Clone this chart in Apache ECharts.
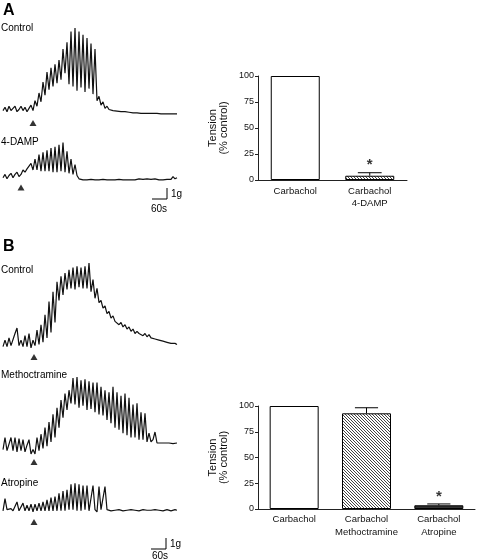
<!DOCTYPE html>
<html>
<head>
<meta charset="utf-8">
<script src="https://cdn.jsdelivr.net/npm/echarts@6/dist/echarts.min.js"></script>
<style>html,body{margin:0;padding:0;background:#fff}#c{width:477px;height:560px}</style>
</head>
<body>
<div id="c"></div>
<script>
// ---------- DATA ----------
// Tension traces (g), one sample every 8 s
const STEP_S = 8;
const controlA = [0.4,0.7,0.3,0.8,0.4,0.5,0.8,0.3,0.5,0.8,
 0.4,0.7,0.3,0.6,0.9,0.4,1.3,0.8,2.0,1.2,
 3.0,1.8,3.9,2.3,4.3,2.6,4.6,2.9,5.0,3.2,
 6.0,3.8,6.6,2.8,7.6,2.6,7.9,2.2,7.6,2.5,
 7.3,2.1,7.0,2.4,6.5,1.9,6.0,1.3,1.7,0.9,
 1.2,0.6,0.8,0.5,0.45,0.4,0.4,0.35,0.35,0.3,
 0.3,0.3,0.25,0.25,0.25,0.2,0.2,0.2,0.2,0.15,
 0.2,0.15,0.15,0.15,0.1,0.15,0.1,0.15,0.1,0.1,
 0.15,0.1,0.1,0.1,0.1,0.1,0.1,0.1];
const damp4 = [0.3,0.6,0.2,0.5,0.7,0.3,0.6,0.8,0.4,0.6,
 1.0,0.8,1.1,1.0,1.6,1.0,2.0,1.0,2.4,0.9,
 2.6,0.9,2.8,0.9,3.0,0.8,3.1,0.8,3.3,0.9,
 3.5,0.8,2.7,0.7,2.0,0.6,1.5,0.5,0.2,0.15,
 0.1,0.15,0.1,0.1,0.15,0.1,0.1,0.15,0.1,0.1,
 0.15,0.1,0.1,0.15,0.1,0.15,0.1,0.1,0.15,0.1,
 0.1,0.15,0.1,0.2,0.1,0.15,0.1,0.1,0.2,0.1,
 0.15,0.1,0.2,0.1,0.15,0.1,0.2,0.15,0.1,0.2,
 0.1,0.2,0.15,0.3,0.15,0.4,0.2,0.3];
const controlB = [0.3,0.9,0.3,1.1,0.4,0.5,1.5,2.0,0.4,0.9,
 0.3,1.3,0.3,1.5,0.2,0.9,0.4,1.8,0.5,2.3,
 0.7,3.2,1.1,4.4,1.6,5.3,2.5,6.2,4.5,6.7,
 5.0,7.0,5.5,7.3,5.6,7.5,5.5,7.6,5.7,7.5,
 5.6,7.6,5.6,7.9,5.3,6.4,4.7,5.6,4.3,4.5,
 3.8,4.0,3.3,3.5,2.9,3.1,2.6,2.7,2.3,2.5,
 2.1,2.3,1.9,2.1,1.7,1.9,1.5,1.7,1.5,1.5,
 1.3,1.5,1.2,1.4,1.1,1.2,1.0,1.1,0.9,1.0,
 0.8,0.9,0.7,0.8,0.6,0.7,0.6,0.5];
const methoctramine = [0.4,1.5,0.3,0.2,1.5,0.3,1.5,0.2,1.4,0.3,
 1.3,0.2,0.8,1.3,0.0,0.4,0.0,1.5,0.3,1.8,
 0.5,2.4,0.7,2.9,1.1,3.6,1.5,4.2,2.4,4.9,
 3.3,5.5,4.0,5.8,4.6,6.9,4.5,7.0,4.2,6.7,
 4.4,6.8,4.0,6.6,4.1,6.5,3.8,6.5,3.6,6.1,
 3.5,5.8,3.1,5.6,2.8,6.1,2.4,5.6,2.2,5.3,
 1.9,5.5,1.7,5.1,1.5,4.5,1.5,4.6,1.3,3.8,
 1.3,3.7,1.1,1.9,1.1,1.3,2.0,1.0,0.9,1.0,
 1.0,1.0,0.95,1.0,1.0,0.95,1.0,1.0];
const atropine = [0.2,1.3,0.3,0.2,0.4,0.2,0.3,1.0,0.2,0.3,
 0.9,0.2,0.7,0.2,0.8,0.1,0.8,0.2,0.9,0.2,
 1.0,0.2,1.2,0.2,1.4,0.2,1.5,0.2,1.8,0.2,
 2.0,0.2,2.1,0.3,2.6,0.3,2.7,0.2,2.6,0.2,
 2.5,0.3,2.5,0.2,0.2,2.5,0.3,0.1,2.4,0.3,
 0.2,2.4,0.3,0.25,0.2,0.3,0.25,0.2,0.3,0.25,
 0.2,0.3,0.25,0.25,0.3,0.2,0.25,0.3,0.2,0.25,
 0.3,0.2,0.25,0.3,0.25,0.2,0.3,0.25,0.25,0.3,
 0.2,0.25,0.3,0.25,0.2,0.25,0.3,0.25];
const traceLabels = ['Control','4-DAMP','Control','Methoctramine','Atropine'];
const stimTimes = [120, 72, 124, 124, 124];     // s, arrowheads
const arrowLevels = [-0.73, -0.6, -0.64, -0.73, -0.82]; // g
const scaleSeconds = 60, scaleGrams = 1;

// Bar charts (Tension, % control)
const catsA = ['Carbachol', 'Carbachol\n4-DAMP'];
const meanA = [100, 4.1];
const semA  = [0, 2.9];
const sigA  = [false, true];
const catsB = ['Carbachol', 'Carbachol\nMethoctramine', 'Carbachol\nAtropine'];
const meanB = [100, 92.9, 3.6];
const semB  = [0, 5.4, 1.3];
const sigB  = [false, false, true];
const yTicks = [0, 25, 50, 75, 100];

// ---------- LAYOUT / STYLE ----------
const FONT = 'Liberation Sans, Arial, Helvetica, sans-serif';
const PX_PER_G = 11;
const traces = [controlA, damp4, controlB, methoctramine, atropine];
const zeroY = [115, 181, 350, 454, 513];
const topG  = [8, 3.6, 8, 7.2, 2.8];
const T_MAX = (controlA.length - 1) * STEP_S;

function hatch(color, n) {
  const c = document.createElement('canvas');
  c.width = n; c.height = n;
  const ctx = c.getContext('2d');
  ctx.fillStyle = '#fff'; ctx.fillRect(0, 0, n, n);
  ctx.fillStyle = color;
  for (let i = 0; i < n; i++) ctx.fillRect(i, i, 1, 1);
  return c;
}
const hatchFill = { image: hatch('#444', 3), repeat: 'repeat' };
const barFillsA = ['#fff', hatchFill];
const barFillsB = ['#fff', hatchFill, '#333'];

const grid = [], xAxis = [], yAxis = [], series = [];
traces.forEach((vals, k) => {
  grid.push({ left: 3, width: 174, top: zeroY[k] - PX_PER_G * topG[k], height: PX_PER_G * (topG[k] + 1) });
  xAxis.push({ gridIndex: k, type: 'value', min: 0, max: T_MAX, show: false });
  yAxis.push({ gridIndex: k, type: 'value', min: -1, max: topG[k], show: false });
  series.push({
    type: 'line', xAxisIndex: k, yAxisIndex: k, showSymbol: false, silent: true,
    data: vals.map((v, i) => [i * STEP_S, v]),
    lineStyle: { color: '#111', width: 1.2 }
  });
  series.push({
    type: 'scatter', xAxisIndex: k, yAxisIndex: k, symbol: 'triangle', symbolSize: [7, 6],
    itemStyle: { color: '#000' }, data: [[stimTimes[k], arrowLevels[k]]]
  });
});

// scale bars
const scaleGrids = [{ left: 152, top: 188, width: 15, height: 11 }, { left: 151, top: 538, width: 15, height: 11 }];
scaleGrids.forEach(g => {
  const k = grid.length;
  grid.push(g);
  xAxis.push({ gridIndex: k, type: 'value', min: 0, max: scaleSeconds, show: false });
  yAxis.push({ gridIndex: k, type: 'value', min: 0, max: scaleGrams, show: false });
  series.push({
    type: 'line', xAxisIndex: k, yAxisIndex: k, showSymbol: false, clip: false,
    data: [[0, 0], [scaleSeconds, 0], [scaleSeconds, scaleGrams]],
    lineStyle: { color: '#000', width: 1 }
  });
});

// bar charts
function barPanel(cats, mean, sem, sig, fills, g, labelMargin, lineH) {
  const k = grid.length;
  grid.push(g);
  xAxis.push({
    gridIndex: k, type: 'category', data: cats,
    axisLine: { lineStyle: { color: '#222', width: 1 } },
    axisTick: { show: false },
    axisLabel: { color: '#111', fontFamily: FONT, fontSize: 9.5, margin: labelMargin, lineHeight: lineH, interval: 0 }
  });
  yAxis.push({
    gridIndex: k, type: 'value', min: yTicks[0], max: yTicks[yTicks.length - 1], interval: yTicks[1] - yTicks[0],
    name: 'Tension\n(% control)', nameLocation: 'middle', nameGap: 29, nameRotate: 90,
    nameTextStyle: { fontFamily: FONT, fontSize: 11, color: '#111', lineHeight: 11 },
    axisLine: { show: true, lineStyle: { color: '#222', width: 1 } },
    axisTick: { show: true, length: 3, lineStyle: { color: '#222' } },
    splitLine: { show: false },
    axisLabel: { color: '#111', fontFamily: FONT, fontSize: 9, margin: 4 }
  });
  series.push({
    type: 'bar', xAxisIndex: k, yAxisIndex: k, barWidth: 49,
    data: mean.map((v, i) => ({ value: v, itemStyle: { color: fills[i], borderColor: '#000', borderWidth: 1 } }))
  });
  series.push({
    type: 'custom', xAxisIndex: k, yAxisIndex: k, z: 5,
    data: mean.map((v, i) => [i, v, sem[i]]).filter(d => d[2] > 0),
    renderItem: (params, api) => {
      const c0 = api.coord([api.value(0), api.value(1)]);
      const c1 = api.coord([api.value(0), api.value(1) + api.value(2)]);
      const half = api.size([1, 0])[0] * 0.16;
      const st = { stroke: '#000', lineWidth: 1 };
      return { type: 'group', children: [
        { type: 'line', shape: { x1: c0[0], y1: c0[1], x2: c1[0], y2: c1[1] }, style: st },
        { type: 'line', shape: { x1: c1[0] - half, y1: c1[1], x2: c1[0] + half, y2: c1[1] }, style: st }
      ] };
    }
  });
  series.push({
    type: 'scatter', xAxisIndex: k, yAxisIndex: k, symbolSize: 0,
    data: mean.map((v, i) => [i, v + sem[i]]).filter((d, i) => sig[i]),
    label: { show: true, formatter: '*', position: 'top', distance: 0, color: '#000', fontFamily: FONT, fontSize: 15, fontWeight: 'bold' }
  });
}
barPanel(catsA, meanA, semA, sigA, barFillsA, { left: 258, top: 76, width: 149, height: 104 }, 5, 12);
barPanel(catsB, meanB, semB, sigB, barFillsB, { left: 258, top: 406, width: 217, height: 103 }, 4, 13);

// text annotations
function txt(s, x, y, size, bold) {
  return { type: 'text', x: x, y: y, silent: true,
    style: { text: s, x: 0, y: 0, fill: '#000', font: (bold ? 'bold ' : '') + size + 'px ' + FONT,
      textAlign: 'left', textVerticalAlign: 'middle', align: 'left', verticalAlign: 'middle' } };
}
const labelY = [28.5, 142, 270, 375, 483];
const graphic = [txt('A', 3, 10.5, 16, true), txt('B', 3, 246.5, 16, true)];
traceLabels.forEach((s, k) => graphic.push(txt(s, 1, labelY[k], 10, false)));
graphic.push(txt(scaleGrams + 'g', 171, 194, 10, false), txt(scaleSeconds + 's', 151, 209, 10, false));
graphic.push(txt(scaleGrams + 'g', 170, 544, 10, false), txt(scaleSeconds + 's', 152, 556, 10, false));

const chart = echarts.init(document.getElementById('c'), null, { renderer: 'canvas' });
chart.setOption({ animation: false, backgroundColor: '#fff', grid, xAxis, yAxis, series, graphic });
</script>
</body>
</html>
